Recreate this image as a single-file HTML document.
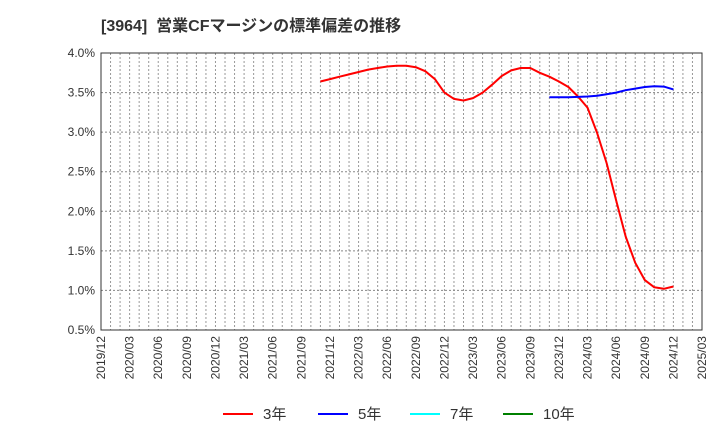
<!DOCTYPE html>
<html><head><meta charset="utf-8"><style>
body{margin:0;background:#fff;font-family:"Liberation Sans","Noto Sans CJK JP",sans-serif;}
</style></head><body>
<svg width="720" height="440" xmlns="http://www.w3.org/2000/svg">
<text x="101" y="31" font-size="16" font-weight="bold" fill="#333" font-family="Liberation Sans,Noto Sans CJK JP,sans-serif" xml:space="preserve">[3964]  営業CFマージンの標準偏差の推移</text>
<g id="grid"></g>
<g id="axes"></g>
<g id="series"></g>
<g id="legend"></g>
</svg>
<script>
const NS="http://www.w3.org/2000/svg";
const xTicks=["2019/12","2020/03","2020/06","2020/09","2020/12","2021/03","2021/06","2021/09","2021/12","2022/03","2022/06","2022/09","2022/12","2023/03","2023/06","2023/09","2023/12","2024/03","2024/06","2024/09","2024/12","2025/03"];
const yTicks=[0.5,1.0,1.5,2.0,2.5,3.0,3.5,4.0];
const red3Start=23;
const red3=[3.64,3.67,3.70,3.73,3.76,3.79,3.81,3.83,3.84,3.84,3.82,3.77,3.67,3.50,3.42,3.40,3.43,3.50,3.60,3.71,3.78,3.81,3.81,3.75,3.70,3.64,3.57,3.45,3.31,2.99,2.61,2.14,1.68,1.35,1.13,1.04,1.02,1.05];
const blue5Start=47;
const blue5=[3.44,3.44,3.44,3.445,3.45,3.46,3.48,3.50,3.53,3.55,3.57,3.58,3.575,3.54];
const L=101,R=702,T=53,B=330,months=63;
const xs=m=>L+m*(R-L)/months;
const ys=v=>B-(v-0.5)/3.5*(B-T);
function mk(tag,attrs,parent){const e=document.createElementNS(NS,tag);for(const k in attrs)e.setAttribute(k,attrs[k]);parent.appendChild(e);return e;}
const grid=document.getElementById('grid'),axes=document.getElementById('axes'),series=document.getElementById('series'),legend=document.getElementById('legend');
for(let m=1;m<months;m++){const l=mk('line',{x1:xs(m),x2:xs(m),y1:T,y2:B,stroke:'#999','stroke-width':1,'stroke-dasharray':'2,2'},grid);

}
yTicks.forEach(v=>{const y=ys(v);
if(v>0.5&&v<4){const l=mk('line',{x1:L,x2:R,y1:y,y2:y,stroke:'#888','stroke-width':1,'stroke-dasharray':'2,2'},grid);

}
const t=mk('text',{x:L-6,y:y+4,'text-anchor':'end','font-size':12,fill:'#333'},axes);t.textContent=v.toFixed(1)+'%';

});
xTicks.forEach((s,i)=>{const x=xs(i*3);const t=mk('text',{transform:`translate(${x+4},${B+6}) rotate(-90)`,'text-anchor':'end','font-size':12,fill:'#333'},axes);t.textContent=s;

});
const fr=mk('rect',{x:L,y:T,width:R-L,height:B-T,fill:'none',stroke:'#333','stroke-width':1},axes);


function line(data,start,color,name){const p=data.map((v,i)=>xs(start+i).toFixed(1)+','+ys(v).toFixed(1)).join(' ');
const e=mk('polyline',{points:p,fill:'none',stroke:color,'stroke-width':2,'stroke-linejoin':'round'},series);

}
line(red3,red3Start,'#ff0000','series-3yr');
line(blue5,blue5Start,'#0000ff','series-5yr');
const leg=[['3年','#ff0000',223],['5年','#0000ff',318],['7年','#00ffff',410],['10年','#008000',503]];
leg.forEach(([n,c,x])=>{const g=mk('g',{},legend);


mk('line',{x1:x,x2:x+30,y1:414,y2:414,stroke:c,'stroke-width':2},g);
const t=mk('text',{x:x+40,y:419,'font-size':15,fill:'#333'},g);t.textContent=n;});
</script>
</body></html>
